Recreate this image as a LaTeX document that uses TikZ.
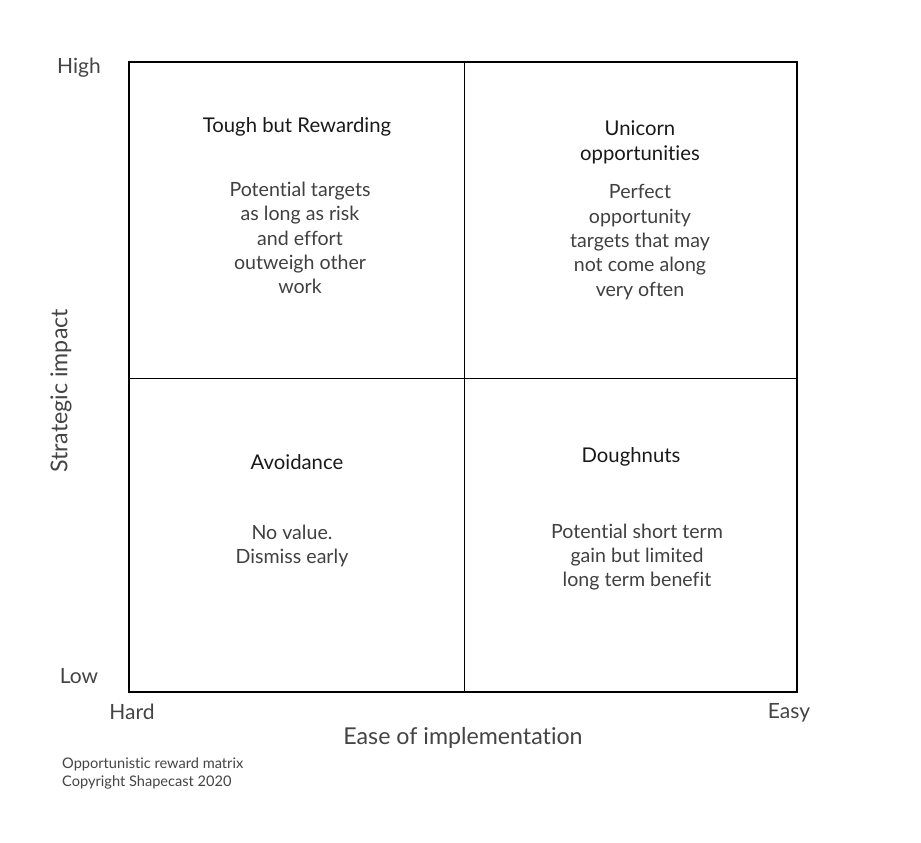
\documentclass[tikz,border=0pt]{standalone}
\usepackage{fontspec}
\setmainfont{Lato}[Ligatures=NoCommon]
\definecolor{bodygray}{HTML}{404040}
\definecolor{axisgray}{HTML}{444444}
\begin{document}
\begin{tikzpicture}[x=1pt,y=-1pt,
  title/.style={font=\fontsize{20.3}{25}\selectfont, text=black!90, align=center, inner sep=0pt},
  body/.style={font=\fontsize{19.6}{24.4}\selectfont, text=bodygray, align=center, inner sep=0pt},
  axis/.style={font=\fontsize{21}{24}\selectfont, text=axisgray, inner sep=0pt},
  axislab/.style={font=\fontsize{23.2}{26}\selectfont, text=axisgray, inner sep=0pt},
  note/.style={font=\fontsize{14.6}{18}\selectfont, text=axisgray, align=left, inner sep=0pt, anchor=west}]
\useasboundingbox (0,0) rectangle (921,843);
\coordinate (tl) at (129,62);
\coordinate (br) at (797,692);
\coordinate (mt) at (464,62);
\coordinate (mb) at (464,692);
\coordinate (ml) at (129,378);
\coordinate (mr) at (797,378);
\draw[line width=0.8pt] (mt) -- (mb);
\draw[line width=0.8pt] (ml) -- (mr);
\draw[line width=1.8pt] (tl) rectangle (br);
% quadrant titles and bodies
\node[title] (t1) at (297,127) {Tough but Rewarding};
\node[body] (b1) at (300,238) {Potential targets\\as long as risk\\and effort\\outweigh other\\work};
\node[title] (t2) at (640,142.5) {Unicorn\\opportunities};
\node[body] (b2) at (640,242) {Perfect\\opportunity\\targets that may\\not come along\\very often};
\node[title] (t3) at (297,462) {Avoidance};
\node[body] (b3) at (292,546) {No value.\\Dismiss early};
\node[title] (t4) at (631,457) {Doughnuts};
\node[body] (b4) at (637,557) {Potential short term\\gain but limited\\long term benefit};
% axes
\node[axis] (high) at (79,68) {High};
\node[axis] (low) at (79,676) {Low};
\node[axis] (hard) at (132,712) {Hard};
\node[axis] (easy) at (789,713) {Easy};
\node[axislab] (xlab) at (463,738) {Ease of implementation};
\node[axislab, rotate=90] (ylab) at (61,391) {Strategic impact};
% footnote
\node[note] (n1) at (62,764) {Opportunistic reward matrix};
\node[note] (n2) at (62,782) {Copyright Shapecast 2020};
\end{tikzpicture}
\end{document}
